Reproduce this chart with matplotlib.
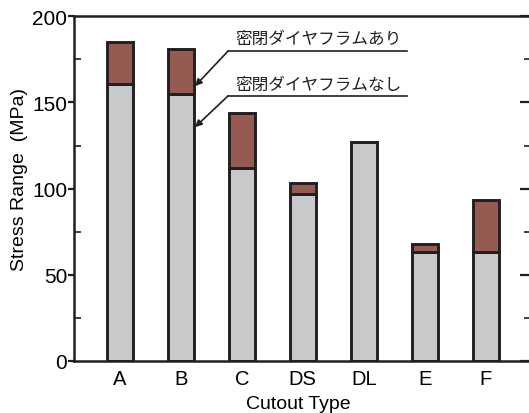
import matplotlib
matplotlib.use("Agg")
import matplotlib.pyplot as plt
from matplotlib.ticker import MultipleLocator

categories = ["A", "B", "C", "DS", "DL", "E", "F"]
without_diaphragm = [161, 155, 112, 97, 127, 63.5, 63.5]
with_diaphragm = [185, 181, 144, 103.5, 127, 68, 93.5]
label_with = "密閉ダイヤフラムあり"
label_without = "密閉ダイヤフラムなし"

plt.rcParams['font.family'] = ['Liberation Sans', 'DejaVu Sans']

fig = plt.figure(figsize=(5.29, 4.14), dpi=100)
ax = fig.add_axes([74/529, 1-362/414, 457.5/529, 344.7/414])

gray = "#c8c9ca"
red = "#955b52"
edge = "#231f20"
x = list(range(len(categories)))
extra = [w - wo for w, wo in zip(with_diaphragm, without_diaphragm)]
ax.bar(x, without_diaphragm, width=0.42, color=gray, edgecolor=edge, linewidth=2.1, zorder=2)
ax.bar(x, extra, bottom=without_diaphragm, width=0.42, color=red, edgecolor=edge, linewidth=2.1, zorder=2)

ax.set_xlim(-0.75, 6.75)
ax.set_ylim(0, 200)
ax.set_xticks(x)
ax.set_xticklabels(categories)
ax.yaxis.set_major_locator(MultipleLocator(50))
ax.yaxis.set_minor_locator(MultipleLocator(25))
for s in ax.spines.values():
    s.set_linewidth(1.8)
    s.set_color(edge)
ax.tick_params(axis='x', length=0, pad=6, labelsize=14.5)
ax.tick_params(axis='y', which='major', direction='out', length=4, width=1.6, pad=1, labelsize=15, color=edge)
ax.tick_params(axis='y', which='minor', direction='in', length=5, width=1.2, color=edge)
# right-side ticks (inward)
axr = ax.secondary_yaxis('right')
axr.yaxis.set_major_locator(MultipleLocator(50))
axr.yaxis.set_minor_locator(MultipleLocator(25))
axr.tick_params(axis='y', which='major', direction='in', length=9, width=1.6, labelright=False, color=edge)
axr.tick_params(axis='y', which='minor', direction='in', length=6, width=1.2, color=edge)
axr.spines['right'].set_linewidth(1.8)

ax.set_ylabel("Stress Range  (MPa)", fontsize=14)
ax.yaxis.set_label_coords(-0.1, 0.53)
ax.set_xlabel("Cutout Type", fontsize=14)
ax.xaxis.set_label_coords(0.49, -0.1)

jp = ['Noto Sans CJK JP', 'DejaVu Sans']
# annotation 1
ax.plot([1.775, 4.709], [179.8, 179.8], color=edge, lw=1.2, clip_on=False, zorder=3)
ax.annotate("", xy=(1.234, 159.5), xytext=(1.775, 179.8),
            arrowprops=dict(arrowstyle='-|>', color=edge, lw=1.2, mutation_scale=10, shrinkA=0, shrinkB=0))
ax.text(1.89, 187.3, label_with, fontsize=12, family=jp, va='center', ha='left', color=edge)
# annotation 2
ax.plot([1.775, 4.709], [153.8, 153.8], color=edge, lw=1.2, clip_on=False, zorder=3)
ax.annotate("", xy=(1.234, 135.7), xytext=(1.775, 153.8),
            arrowprops=dict(arrowstyle='-|>', color=edge, lw=1.2, mutation_scale=10, shrinkA=0, shrinkB=0))
ax.text(1.89, 160.6, label_without, fontsize=12, family=jp, va='center', ha='left', color=edge)

fig.savefig("out.png", dpi=100)
